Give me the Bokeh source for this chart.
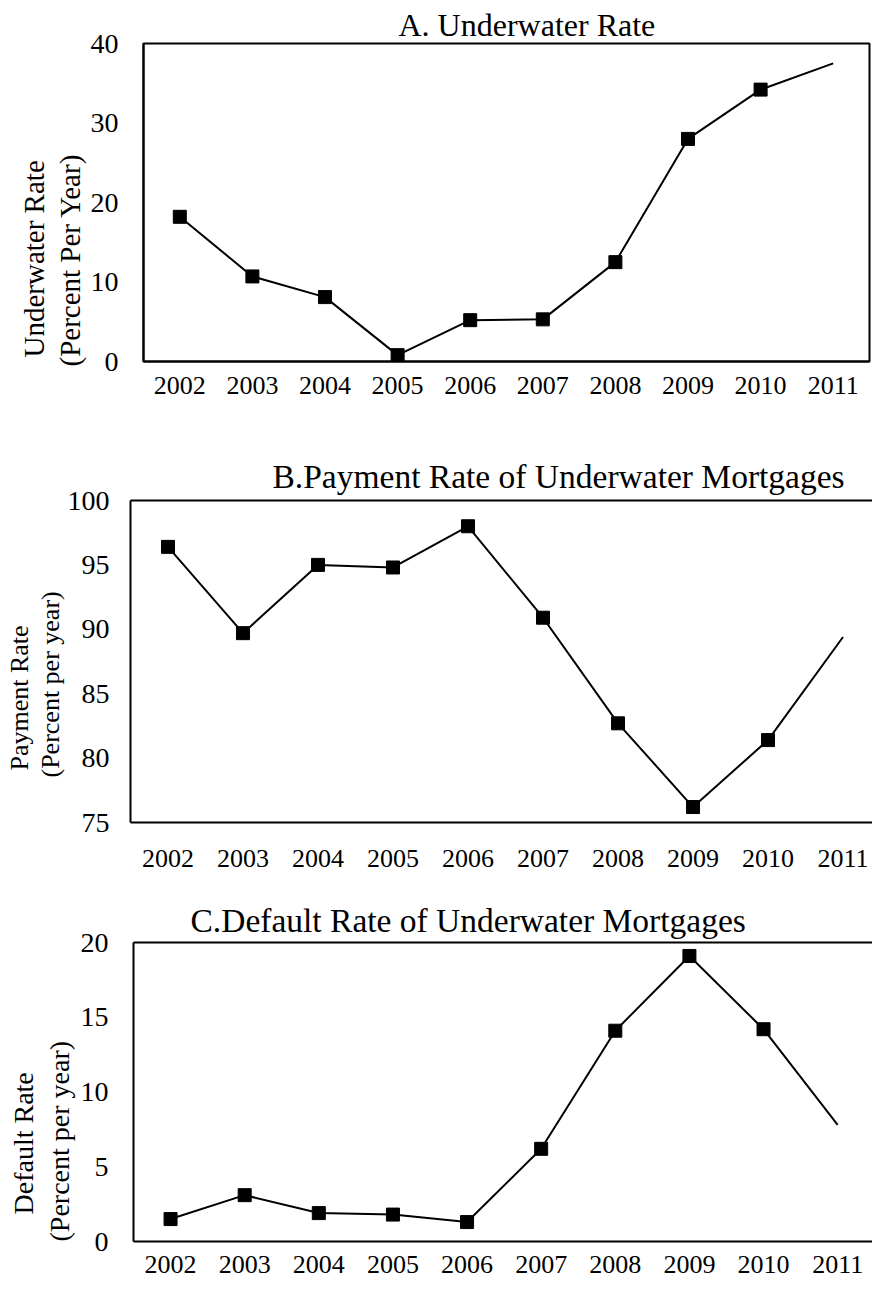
from bokeh.plotting import figure
from bokeh.models import Range1d, FixedTicker, LinearAxis, Title, ColumnDataSource
from bokeh.embed import file_html
from bokeh.resources import INLINE

# ---------------- data ----------------
years = ["2002", "2003", "2004", "2005", "2006", "2007", "2008", "2009", "2010", "2011"]
underwater_rate = [18.2, 10.7, 8.1, 0.8, 5.2, 5.3, 12.5, 28.0, 34.2, 37.5]
payment_rate = [96.4, 89.7, 95.0, 94.8, 98.0, 90.9, 82.7, 76.2, 81.4, 89.4]
default_rate = [1.5, 3.1, 1.9, 1.8, 1.3, 6.2, 14.1, 19.1, 14.2, 7.8]
ticks_a = [0, 10, 20, 30, 40]
ticks_b = [75, 80, 85, 90, 95, 100]
ticks_c = [0, 5, 10, 15, 20]
marked_points = 9  # the last year is drawn without a marker

FONT = "Liberation Serif"


def make_panel(title, lab_outer, lab_inner, values, yticks, x_end,
               frame_w, frame_h, b_left, b_top, b_bottom, b_right,
               title_size, title_off, title_standoff,
               lab_size, outer_off, inner_off, inner_standoff,
               x_standoff, y_standoff, closed_right):
    xs = list(range(len(years)))
    p = figure(frame_width=frame_w, frame_height=frame_h,
               x_range=Range1d(-0.5, x_end),
               y_range=Range1d(yticks[0], yticks[-1]),
               output_backend="svg", toolbar_location=None, title=None,
               min_border_left=b_left, min_border_top=b_top,
               min_border_bottom=b_bottom, min_border_right=b_right,
               background_fill_color="white", border_fill_color="white")
    p.xgrid.visible = False
    p.ygrid.visible = False
    if closed_right:
        p.outline_line_color = "black"
        p.outline_line_width = 2
    else:
        p.outline_line_color = None

    for ax in (p.xaxis[0], p.yaxis[0]):
        ax.major_tick_out = 0
        ax.major_tick_in = 0
        ax.minor_tick_out = 0
        ax.minor_tick_in = 0
        ax.axis_line_color = "black"
        ax.axis_line_width = 2
        ax.major_label_text_font = FONT
        ax.major_label_text_color = "black"

    p.xaxis.ticker = FixedTicker(ticks=xs)
    p.xaxis.major_label_overrides = {i: y for i, y in enumerate(years)}
    p.xaxis.major_label_text_font_size = "26px"
    p.xaxis.major_label_standoff = x_standoff

    p.yaxis.ticker = FixedTicker(ticks=yticks)
    p.yaxis.major_label_text_font_size = "28px"
    p.yaxis.major_label_standoff = y_standoff

    if not closed_right:
        top = LinearAxis(ticker=FixedTicker(ticks=[]), major_tick_out=0, major_tick_in=0,
                         minor_tick_out=0, minor_tick_in=0, major_label_standoff=0,
                         axis_line_color="black", axis_line_width=2)
        p.add_layout(top, "above")

    p.add_layout(Title(text=title, align="left", offset=title_off,
                       text_font=FONT, text_font_size=f"{title_size}px",
                       text_font_style="normal",
                       text_color="black", standoff=title_standoff), "above")

    p.add_layout(Title(text=lab_inner, align="left", offset=inner_off,
                       text_font=FONT, text_font_size=f"{lab_size}px",
                       text_font_style="normal",
                       text_color="black", standoff=inner_standoff), "left")
    p.add_layout(Title(text=lab_outer, align="left", offset=outer_off,
                       text_font=FONT, text_font_size=f"{lab_size}px",
                       text_font_style="normal",
                       text_color="black", standoff=0), "left")

    line_src = ColumnDataSource(dict(x=xs, y=values))
    mark_src = ColumnDataSource(dict(x=xs[:marked_points], y=values[:marked_points]))
    p.line("x", "y", source=line_src, line_color="black", line_width=2)
    p.scatter("x", "y", source=mark_src, marker="square", size=13,
              fill_color="black", line_color="black")
    return p


pA = make_panel("A. Underwater Rate", "Underwater Rate", "(Percent Per Year)",
                underwater_rate, ticks_a, 9.5,
                726, 318, 143, 43, 70, 3,
                32, 255, 2,
                29, 4, -5, 4,
                15, 25, True)

pB = make_panel("B.Payment Rate of Underwater Mortgages", "Payment Rate", "(Percent per year)",
                payment_rate, ticks_b, 9.393,
                742, 322, 130, 69, 70, 0,
                33.5, 142, 11,
                26, 52, 45, 0,
                27, 21, False)

pC = make_panel("C.Default Rate of Underwater Mortgages", "Default Rate", "(Percent per year)",
                default_rate, ticks_c, 9.47,
                739, 299, 133, 50, 46, 0,
                33.5, 57, 7,
                28, 27, 0, 6,
                14, 25, False)

open("out.html", "w").write(file_html([pA, pB, pC], INLINE))
